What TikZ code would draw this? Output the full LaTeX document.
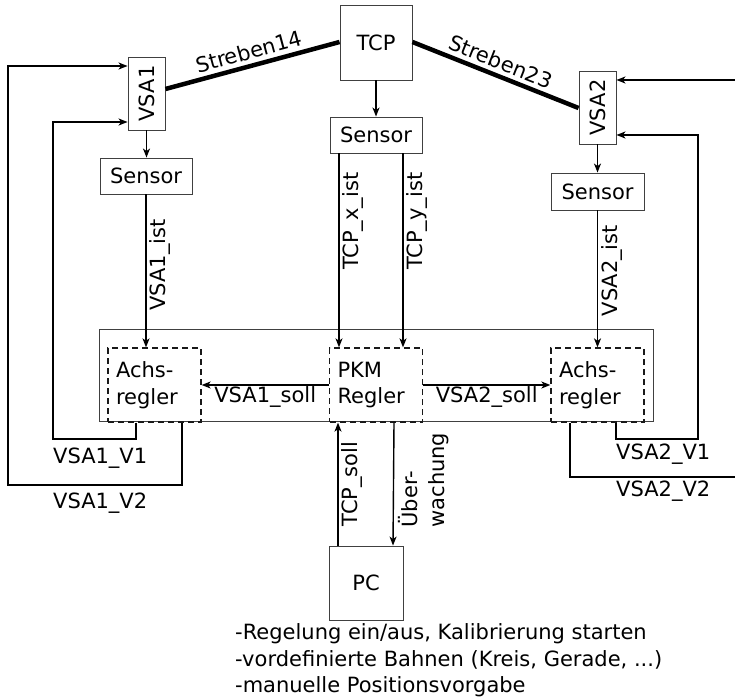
\documentclass[tikz,border=0pt]{standalone}
\usepackage{fontspec}
\setmainfont{DejaVu Sans}
\usetikzlibrary{arrows.meta}
\begin{document}
\begin{tikzpicture}[x=1pt,y=-1pt,
  font=\fontsize{21}{26.5}\selectfont,
  box/.style={draw=black!75, line width=0.9pt, inner sep=0pt},
  dbox/.style={draw=black!90, dash pattern=on 6pt off 4pt, line width=1.3pt,
    minimum width=93pt, minimum height=74pt, text width=77pt, inner xsep=8pt, inner ysep=0pt, align=left},
  arr/.style={line width=1.4pt, -{Stealth[length=9pt,width=7pt,inset=2.5pt]}},
  ln/.style={line width=1.4pt},
  strut/.style={line width=4.5pt},
  lbl/.style={inner sep=2pt}]
\useasboundingbox (0,0) rectangle (735,700);

% boxes
\node[box, minimum width=72pt, minimum height=75pt] (tcp) at (376,42.5) {TCP};
\node[box, minimum width=37pt, minimum height=73pt] (vsa1) at (146.5,93.5) {\rotatebox{90}{VSA1}};
\node[box, minimum width=37pt, minimum height=73pt] (vsa2) at (597.5,107.5) {\rotatebox{90}{VSA2}};
\node[box, minimum width=92pt, minimum height=36pt] (s0) at (376,135) {Sensor};
\node[box, minimum width=92pt, minimum height=36pt] (s1) at (146,176) {Sensor};
\node[box, minimum width=93pt, minimum height=37pt] (s2) at (597.5,191.5) {Sensor};
\node[box, minimum width=554pt, minimum height=92pt] (big) at (376,375) {};
\node[dbox] (ach1) at (154.5,385) {Achs-\\regler};
\node[dbox] (pkm) at (376,385) {PKM\\Regler};
\node[dbox] (ach2) at (597.5,385) {Achs-\\regler};
\node[box, minimum width=74pt, minimum height=74pt] (pc) at (366,583) {PC};

% struts
\draw[strut] ([yshift=4.5pt]vsa1.east) -- ([yshift=0.5pt]tcp.west)
  node[midway, sloped, above, lbl, inner sep=4pt] (st14) {Streben14};
\draw[strut] ([yshift=0.5pt]tcp.east) -- ([yshift=-0.5pt]vsa2.west)
  node[midway, sloped, above, lbl, inner sep=4pt] (st23) {Streben23};

% sensor arrows
\draw[arr] (tcp.south) -- (s0.north);
\draw[arr] (vsa1.south) -- (vsa1.south |- s1.north);
\draw[arr] (vsa2.south) -- (s2.north);

% measured values
\draw[arr] (s1.south) -- (s1.south |- ach1.north)
  node[pos=0.46, rotate=90, anchor=north, lbl, inner sep=3pt] (l1ist) {VSA1\_ist};
\draw[arr] ([xshift=-37pt]s0.south) -- ([xshift=-37pt]s0.south |- pkm.north)
  node[pos=0.35, rotate=90, anchor=north, lbl, inner sep=3pt] (lxist) {TCP\_x\_ist};
\draw[arr] ([xshift=27pt]s0.south) -- ([xshift=27pt]s0.south |- pkm.north)
  node[pos=0.35, rotate=90, anchor=north, lbl, inner sep=3pt] (lyist) {TCP\_y\_ist};
\draw[arr] (s2.south) -- (ach2.north)
  node[pos=0.44, rotate=90, anchor=north, lbl, inner sep=3pt] (l2ist) {VSA2\_ist};

% set values
\draw[arr] (pkm.west) -- (ach1.east)
  node[midway, below, lbl, inner sep=1pt] (l1soll) {VSA1\_soll};
\draw[arr] (pkm.east) -- (ach2.west)
  node[midway, below, lbl, inner sep=1pt] (l2soll) {VSA2\_soll};

% PC connections
\draw[arr] ([xshift=-28pt]pc.north) -- ([xshift=-28pt]pc.north |- pkm.south)
  node[midway, rotate=90, anchor=north, lbl, inner sep=3pt] (ltsoll) {TCP\_soll};
\draw[arr] ([xshift=18pt]pkm.south) -- ([xshift=27pt]pc.north)
  node[pos=0.9, rotate=90, anchor=north west, align=left, inner sep=5pt] (lueb) {Über-\\wachung};

% feedback VSA1
\coordinate (c11) at (53,439);
\coordinate (c12) at (8,485);
\draw[arr] ([xshift=-18.5pt]ach1.south) |- (c11) |- ([yshift=-28.5pt]vsa1.west);
\draw[arr] ([xshift=27.5pt]ach1.south) |- (c12) |- ([yshift=27.5pt]vsa1.west);
\node[anchor=base west, inner sep=0pt] (lv11) at (53,463) {VSA1\_V1};
\node[anchor=base west, inner sep=0pt] (lv12) at (53,508) {VSA1\_V2};

% feedback VSA2
\coordinate (c21) at (698,439);
\coordinate (c22) at (735,477);
\coordinate (c23) at (735,80);
\draw[arr] ([xshift=18.5pt]ach2.south) |- (c21) |- ([yshift=-27.5pt]vsa2.east);
\draw[ln] ([xshift=-27.5pt]ach2.south) |- (c22);
\draw[arr] (c23) -- (c23 -| vsa2.east);
\node[anchor=base west, inner sep=0pt] (lv21) at (616,459) {VSA2\_V1};
\node[anchor=base west, inner sep=0pt] (lv22) at (616,496) {VSA2\_V2};

% PC functions
\node[anchor=base west, inner sep=0pt] (f1) at (235,639) {-Regelung ein/aus, Kalibrierung starten};
\node[anchor=base west, inner sep=0pt] (f2) at (235,666) {-vordefinierte Bahnen (Kreis, Gerade, ...)};
\node[anchor=base west, inner sep=0pt] (f3) at (235,692) {-manuelle Positionsvorgabe};
\end{tikzpicture}
\end{document}
